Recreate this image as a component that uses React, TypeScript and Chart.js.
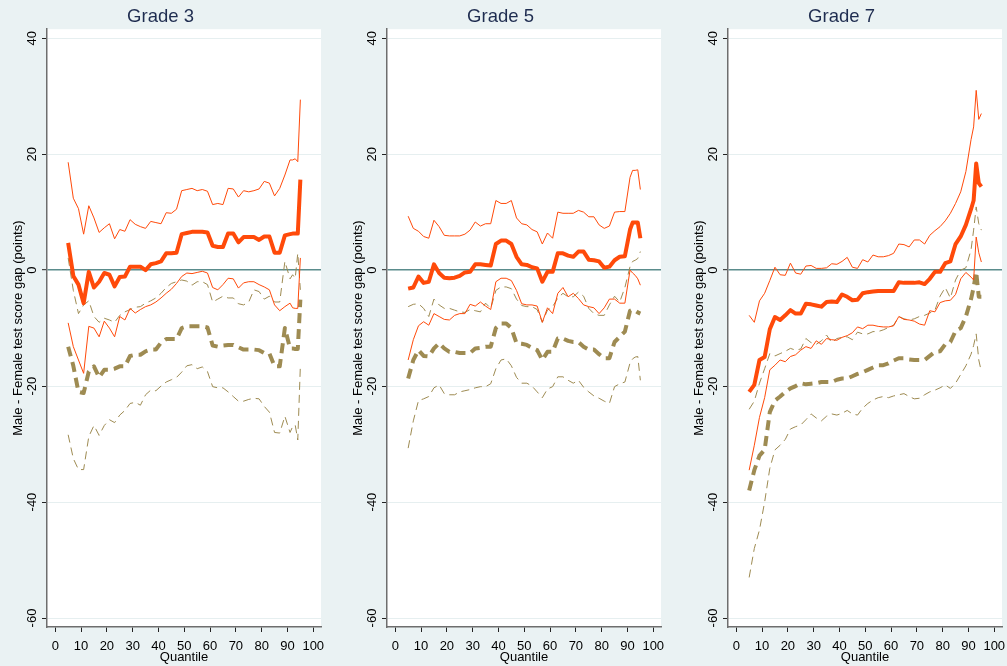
import React, { useEffect, useRef } from "react";
import { Chart, registerables } from "chart.js";
Chart.register(...registerables);

// ---------- data ----------
const quantiles = [
  5, 7, 9, 11, 13, 15, 17, 19, 21, 23,
  25, 27, 29, 31, 33, 35, 37, 39, 41, 43,
  45, 47, 49, 51, 53, 55, 57, 59, 61, 63,
  65, 67, 69, 71, 73, 75, 77, 79, 81, 83,
  85, 87, 89, 91, 92, 93, 94, 95,
];
const xTickValues = [0, 10, 20, 30, 40, 50, 60, 70, 80, 90, 100];
const yTickValues = [-60, -40, -20, 0, 20, 40];
const panelTitles = ["Grade 3", "Grade 5", "Grade 7"];
const yAxisTitle = "Male - Female test score gap (points)";
const xAxisTitle = "Quantile";

// Grade 3
const g3Est = [
  4.7, -1.0, -2.5, -5.7, -0.3, -3.0, -2.0, -0.5, -0.8, -2.8,
  -1.2, -1.1, 0.6, 0.6, 0.6, 0.0, 1.0, 1.2, 1.5, 2.9,
  2.9, 3.0, 6.2, 6.4, 6.6, 6.6, 6.6, 6.5, 4.2, 4.0,
  4.0, 6.3, 6.3, 4.8, 5.7, 5.7, 5.7, 5.2, 5.8, 5.8,
  3.0, 3.0, 6.0, 6.2, 6.3, 6.3, 6.3, 15.6,
];
const g3EstHi = [
  18.6, 12.4, 10.6, 6.2, 11.1, 9.0, 6.5, 7.3, 8.0, 5.4,
  7.0, 6.7, 8.7, 7.9, 7.5, 7.2, 8.4, 8.2, 8.0, 9.9,
  9.8, 10.5, 13.7, 13.9, 14.1, 13.7, 13.9, 13.6, 11.3, 11.5,
  11.3, 14.1, 14.0, 12.6, 13.7, 13.5, 13.7, 14.0, 15.3, 15.0,
  12.8, 14.1, 16.4, 19.0, 19.0, 19.2, 18.7, 29.4,
];
const g3EstLo = [
  -9.1, -13.2, -15.5, -17.8, -9.7, -10.0, -11.5, -8.8, -10.0, -11.5,
  -8.0, -8.6, -6.6, -7.4, -6.8, -6.3, -6.0, -5.5, -4.8, -4.0,
  -3.3, -2.3, -1.1, -0.5, -0.6, -0.4, -0.2, -0.5, -3.0, -3.4,
  -2.5, -1.4, -1.5, -3.1, -2.2, -2.0, -2.0, -2.5, -2.9, -3.4,
  -6.0, -7.0, -6.3, -5.7, -6.5, -6.6, -6.6, 2.1,
];
const g3Alt = [
  -13.2, -16.5, -21.0, -21.2, -17.5, -16.6, -18.5, -17.2, -17.2, -17.0,
  -16.6, -16.6, -14.8, -14.6, -14.6, -14.0, -13.7, -13.7, -12.5, -11.9,
  -11.9, -11.9, -10.0, -9.7, -9.7, -9.7, -9.7, -9.9, -13.0, -13.2,
  -13.0, -12.9, -12.9, -13.3, -13.7, -13.7, -13.7, -13.8, -14.3, -14.4,
  -16.6, -16.6, -10.0, -13.5, -13.5, -13.6, -13.6, -5.1,
];
const g3AltHi = [
  2.1, -3.5, -7.5, -6.0, -5.3, -8.0, -9.0, -8.3, -8.6, -9.0,
  -7.8, -7.2, -6.8, -6.4, -6.3, -5.7, -5.3, -4.8, -4.0, -3.0,
  -2.3, -2.0, -1.7, -1.9, -2.6, -2.0, -2.0, -2.5, -5.5, -5.0,
  -4.5, -4.8, -4.8, -5.8, -6.0, -5.5, -3.4, -3.7, -5.0, -4.5,
  -5.5, -5.5, 1.5, -1.5, -0.8, -1.4, 2.9, -3.4,
];
const g3AltLo = [
  -28.4, -32.5, -34.4, -34.4, -28.7, -26.8, -28.5, -26.8, -25.8, -26.3,
  -25.0, -24.2, -23.0, -22.8, -23.3, -21.5, -20.7, -20.8, -20.0, -19.3,
  -18.9, -18.5, -17.6, -16.5, -16.3, -17.0, -16.7, -17.5, -20.1, -20.3,
  -20.3, -21.0, -21.8, -22.6, -22.6, -22.3, -22.1, -22.2, -23.5, -24.5,
  -28.0, -28.1, -25.2, -28.0, -27.0, -26.7, -29.3, -16.5,
];

// Grade 5
const g5Est = [
  -3.2, -3.0, -1.1, -2.2, -2.0, 1.0, -0.5, -1.3, -1.4, -1.3,
  -1.0, -0.4, -0.3, 1.0, 1.0, 0.9, 0.8, 4.5, 5.1, 5.1,
  4.5, 2.3, 1.0, 0.9, 0.5, 0.3, -2.0, -0.3, -0.3, 2.9,
  2.9, 2.5, 2.3, 3.2, 3.2, 1.8, 1.7, 1.5, 0.4, 0.6,
  1.7, 2.3, 2.4, 7.0, 8.2, 8.2, 8.2, 5.5,
];
const g5EstHi = [
  9.3, 7.2, 6.7, 5.8, 5.5, 8.6, 7.5, 6.0, 5.9, 5.9,
  5.9, 6.2, 6.9, 8.3, 7.6, 8.0, 8.0, 12.0, 11.5, 11.5,
  12.0, 9.0, 8.0, 7.8, 7.0, 6.6, 4.5, 6.4, 5.5, 10.0,
  9.8, 9.8, 9.8, 10.3, 10.0, 9.2, 9.2, 7.8, 7.2, 7.6,
  10.0, 10.1, 10.1, 16.0, 17.2, 17.2, 17.3, 13.9,
];
const g5EstLo = [
  -15.5, -12.0, -9.6, -8.9, -9.5, -7.5, -8.0, -8.5, -8.6, -7.8,
  -7.5, -7.5, -5.9, -6.2, -5.5, -6.2, -6.8, -2.0, -1.4, -1.4,
  -1.8, -3.5, -5.8, -6.0, -6.0, -6.2, -9.0, -6.5, -7.5, -4.0,
  -3.0, -4.6, -4.0, -4.9, -6.0, -6.3, -6.5, -7.5, -6.5, -5.0,
  -5.0, -5.7, -5.7, 0.0, -0.5, -0.9, -1.5, -2.6,
];
const g5Alt = [
  -18.7, -15.5, -13.8, -14.8, -14.9, -13.5, -12.6, -13.5, -14.1, -14.1,
  -14.3, -14.3, -14.3, -13.5, -13.4, -13.2, -13.2, -10.0, -9.2, -9.2,
  -10.0, -12.6, -12.7, -12.9, -13.4, -13.8, -15.5, -14.1, -14.1, -11.8,
  -11.8, -12.2, -12.4, -12.4, -13.2, -13.7, -13.7, -14.5, -15.2, -15.2,
  -12.4, -11.5, -10.6, -7.0, -6.8, -7.0, -7.3, -7.5,
];
const g5AltHi = [
  -6.3, -5.9, -5.8, -6.6, -8.0, -5.0, -6.0, -6.6, -6.6, -6.9,
  -7.2, -7.3, -6.8, -7.0, -7.2, -5.7, -6.6, -3.5, -2.9, -2.9,
  -3.2, -5.0, -6.1, -6.3, -6.3, -6.8, -9.0, -6.9, -6.3, -4.8,
  -4.0, -4.6, -4.6, -3.8, -4.5, -6.6, -7.5, -7.8, -7.8, -6.0,
  -4.5, -5.5, -3.0, 0.6, 1.5, 1.7, 2.0, 3.2,
];
const g5AltLo = [
  -30.7, -26.0, -22.5, -22.2, -21.8, -20.3, -19.8, -21.3, -21.5, -21.5,
  -21.0, -20.8, -20.6, -20.3, -20.1, -20.1, -19.6, -17.0, -15.5, -15.3,
  -16.5, -18.5, -19.5, -19.5, -20.0, -21.0, -22.0, -20.5, -20.1, -18.4,
  -18.4, -19.0, -19.5, -19.0, -20.2, -21.0, -21.7, -22.1, -22.6, -23.0,
  -20.1, -19.6, -19.3, -16.0, -15.3, -15.0, -14.9, -19.0,
];

// Grade 7
const g7Est = [
  -21.0, -19.8, -15.5, -15.0, -10.2, -8.1, -8.6, -7.8, -6.9, -7.5,
  -7.5, -5.8, -5.9, -6.1, -6.3, -5.5, -5.4, -5.5, -4.2, -4.6,
  -5.2, -5.1, -4.0, -3.8, -3.7, -3.6, -3.6, -3.6, -3.6, -2.1,
  -2.2, -2.2, -2.2, -2.1, -2.4, -1.5, -0.3, -0.3, 1.2, 1.5,
  4.5, 5.8, 7.8, 10.5, 12.0, 18.4, 15.0, 14.4,
];
const g7EstHi = [
  -7.8, -9.0, -5.3, -4.0, -1.8, 0.5, -0.8, -0.9, 1.2, -0.5,
  -0.7, 0.7, 0.8, 0.3, 0.3, 0.4, 1.1, 1.0, 1.5, 2.2,
  0.5, 0.3, 1.8, 1.4, 2.6, 2.3, 2.3, 2.5, 2.9, 4.5,
  4.4, 4.0, 5.2, 5.2, 4.5, 6.0, 6.8, 7.5, 8.5, 9.8,
  11.5, 13.5, 17.0, 22.5, 24.7, 31.0, 26.0, 27.0,
];
const g7EstLo = [
  -34.5, -30.2, -25.4, -22.0, -17.2, -16.4, -15.5, -15.8, -14.9, -14.6,
  -13.8, -13.2, -13.5, -12.2, -12.8, -11.8, -12.0, -12.1, -11.6, -11.3,
  -10.8, -9.8, -10.1, -9.5, -9.5, -9.7, -9.8, -9.8, -9.6, -8.0,
  -8.5, -8.6, -8.8, -9.3, -9.5, -7.0, -7.2, -5.6, -5.3, -5.2,
  -4.2, -1.5, -0.4, -1.2, -1.7, 5.7, 3.0, 1.4,
];
const g7Alt = [
  -38.0, -34.5, -32.0, -31.0, -24.5, -22.5, -21.8, -21.0, -20.4, -20.0,
  -19.5, -19.7, -19.6, -19.5, -19.3, -19.3, -19.3, -18.9, -18.7, -18.7,
  -18.3, -17.9, -17.6, -17.2, -16.8, -16.4, -16.4, -16.1, -15.6, -15.2,
  -15.2, -15.4, -15.5, -15.5, -15.5, -14.8, -14.1, -14.0, -12.8, -12.4,
  -10.5, -10.0, -8.0, -5.0, -3.0, -0.3, -4.6, -4.6,
];
const g7AltHi = [
  -24.0, -22.6, -19.5, -17.0, -14.4, -14.8, -14.4, -14.0, -13.5, -13.8,
  -13.6, -11.8, -12.5, -12.8, -12.2, -11.2, -12.5, -11.8, -11.6, -11.5,
  -12.0, -10.7, -11.0, -11.0, -10.6, -10.6, -10.3, -9.9, -9.5, -8.0,
  -8.4, -8.6, -8.4, -8.0, -7.8, -7.4, -6.9, -4.5, -3.0, -4.8,
  -1.7, 0.0, 0.4, 3.5, 6.9, 10.9, 8.0, 6.9,
];
const g7AltLo = [
  -53.0, -48.0, -44.8, -40.0, -34.2, -31.0, -30.2, -29.2, -27.4, -27.0,
  -26.7, -25.8, -24.8, -25.5, -26.0, -25.2, -24.8, -25.0, -24.7, -24.2,
  -24.8, -25.0, -23.8, -23.0, -22.4, -22.0, -21.8, -22.0, -21.7, -21.5,
  -21.3, -21.8, -22.2, -22.1, -21.5, -21.0, -20.7, -20.3, -19.8, -20.4,
  -19.5, -18.0, -16.5, -14.5, -13.0, -11.0, -15.5, -17.5,
];

const panels = [
  { title: panelTitles[0], est: g3Est, estHi: g3EstHi, estLo: g3EstLo, alt: g3Alt, altHi: g3AltHi, altLo: g3AltLo },
  { title: panelTitles[1], est: g5Est, estHi: g5EstHi, estLo: g5EstLo, alt: g5Alt, altHi: g5AltHi, altLo: g5AltLo },
  { title: panelTitles[2], est: g7Est, estHi: g7EstHi, estLo: g7EstLo, alt: g7Alt, altHi: g7AltHi, altLo: g7AltLo },
];

// ---------- style ----------
const FONT = "'Liberation Sans', Arial, Helvetica, sans-serif";
const BG = "#eaf2f3";
const ORANGE = "#ff4a0a";
const OLIVE = "#9e8b52";
const ZERO = "#5a8c8c";
const GRID = "#e6eff0";
const AXIS = "#6e6e6e";
const PANEL_LEFT = [0, 340, 681];
const CANVAS_W = 340;
const CANVAS_H = 666;

const plotBg = {
  id: "plotBg",
  beforeDraw(chart: any) {
    const { ctx, chartArea: a } = chart;
    ctx.save();
    ctx.fillStyle = "#ffffff";
    ctx.fillRect(a.left, a.top, a.right - a.left, a.bottom - a.top);
    ctx.restore();
  },
};

const yTickLabels = {
  id: "yTickLabels",
  afterDraw(chart: any) {
    const { ctx } = chart;
    const y = chart.scales.y;
    ctx.save();
    ctx.font = `13px ${FONT}`;
    ctx.fillStyle = "#000";
    ctx.textAlign = "center";
    ctx.textBaseline = "middle";
    y.ticks.forEach((t: any) => {
      const py = y.getPixelForValue(t.value);
      ctx.save();
      ctx.translate(y.right - 15, py);
      ctx.rotate(-Math.PI / 2);
      ctx.fillText(String(t.value), 0, 0);
      ctx.restore();
    });
    ctx.restore();
  },
};

function Panel(props: any) {
  const { panel, left } = props;
  const ref = useRef<HTMLCanvasElement | null>(null);
  useEffect(() => {
    if (!ref.current) return;
    const pts = (arr: number[]) => quantiles.map((x, i) => ({ x, y: arr[i] }));
    const line = (arr: number[], color: string, width: number, dash: number[]) => ({
      data: pts(arr),
      borderColor: color,
      borderWidth: width,
      borderDash: dash,
      borderJoinStyle: "round",
      pointRadius: 0,
      fill: false,
      tension: 0,
    });
    const chart = new Chart(ref.current, {
      type: "line",
      data: {
        datasets: [
          line(panel.est, ORANGE, 4, []),
          line(panel.estHi, ORANGE, 1, []),
          line(panel.estLo, ORANGE, 1, []),
          line(panel.alt, OLIVE, 4, [10, 6]),
          line(panel.altHi, OLIVE, 1, [8, 5]),
          line(panel.altLo, OLIVE, 1, [8, 5]),
        ] as any,
      },
      options: {
        animation: false,
        responsive: false,
        events: [],
        layout: { padding: { left: 0, right: 19, top: 0, bottom: 0 } },
        plugins: {
          legend: { display: false },
          tooltip: { enabled: false },
          title: {
            display: true,
            text: panel.title,
            color: "#1f2d50",
            font: { family: FONT, size: 18.5, weight: "normal" },
            padding: { top: 6, bottom: 1 },
          },
        },
        scales: {
          x: {
            type: "linear",
            min: -3.2,
            max: 103,
            afterBuildTicks: (s: any) => {
              s.ticks = xTickValues.map((v) => ({ value: v }));
            },
            afterFit: (s: any) => {
              s.height = 39;
            },
            grid: { drawOnChartArea: false, drawTicks: true, tickLength: 5, tickColor: "#222", tickWidth: 1 },
            border: { display: true, color: AXIS, width: 1.5 },
            ticks: { color: "#000", font: { family: FONT, size: 13 }, padding: 7, maxRotation: 0, minRotation: 0, autoSkip: false },
            title: { display: true, text: xAxisTitle, color: "#000", font: { family: FONT, size: 13 }, padding: { top: 0, bottom: 1 } },
          },
          y: {
            type: "linear",
            min: -61.55,
            max: 41.55,
            afterBuildTicks: (s: any) => {
              s.ticks = yTickValues.map((v) => ({ value: v }));
            },
            afterFit: (s: any) => {
              s.width = 47;
            },
            grid: {
              color: (c: any) => (c.tick && c.tick.value === 0 ? ZERO : GRID),
              lineWidth: (c: any) => (c.tick && c.tick.value === 0 ? 1.4 : 1),
              drawTicks: true,
              tickLength: 5,
              tickColor: "#222",
              tickWidth: 1,
            },
            border: { display: true, color: AXIS, width: 1.5 },
            ticks: { display: false },
            title: { display: true, text: yAxisTitle, color: "#000", font: { family: FONT, size: 13 }, padding: { top: 11, bottom: 0 } },
          },
        },
      } as any,
      plugins: [plotBg, yTickLabels],
    });
    return () => chart.destroy();
  }, [panel]);
  return (
    <div style={{ position: "absolute", left, top: 0, width: CANVAS_W, height: CANVAS_H }}>
      <canvas ref={ref} width={CANVAS_W} height={CANVAS_H} style={{ width: CANVAS_W, height: CANVAS_H, display: "block" }} />
    </div>
  );
}

export default function App() {
  return (
    <div
      style={{
        position: "fixed",
        left: 0,
        top: 0,
        width: 1007,
        height: 666,
        background: BG,
        overflow: "hidden",
      }}
    >
      {panels.map((p, i) => (
        <Panel key={i} panel={p} left={PANEL_LEFT[i]} />
      ))}
    </div>
  );
}
